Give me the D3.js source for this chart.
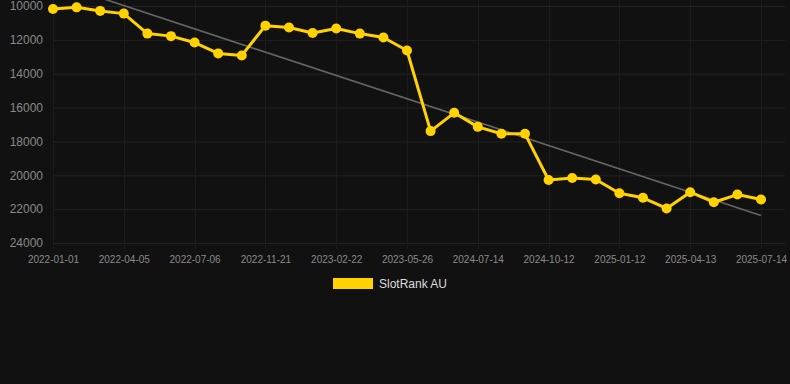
<!DOCTYPE html>
<html>
<head>
<meta charset="utf-8">
<script src="https://cdn.jsdelivr.net/npm/d3@7"></script>
<style>
  html, body { margin: 0; padding: 0; background: #111111; }
  svg { display: block; font-family: "Liberation Sans", Arial, sans-serif; }
</style>
</head>
<body>
<div id="chart"></div>
<script>
// dates for each point (only every 3rd one is labelled on the axis)
const dates = [
  "2022-01-01", "2022-02-01", "2022-03-04", "2022-04-05", "2022-05-06", "2022-06-05",
  "2022-07-06", "2022-08-20", "2022-10-05", "2022-11-21", "2022-12-22", "2023-01-22",
  "2023-02-22", "2023-03-25", "2023-04-25", "2023-05-26", "2023-06-26", "2024-06-13",
  "2024-07-14", "2024-08-13", "2024-09-12", "2024-10-12", "2024-11-11", "2024-12-12",
  "2025-01-12", "2025-02-11", "2025-03-13", "2025-04-13", "2025-05-13", "2025-06-13",
  "2025-07-14"
];
const rank = [
  10180, 10080, 10290, 10450, 11630, 11780, 12160, 12800, 12920, 11160,
  11270, 11590, 11330, 11630, 11860, 12630, 17390, 16310, 17140, 17550,
  17550, 20280, 20160, 20250, 21060, 21330, 21960, 21000, 21590, 21140,
  21430
];
const yTicks = [10000, 12000, 14000, 16000, 18000, 20000, 22000, 24000];
const seriesName = "SlotRank AU";

const W = 790, H = 384;
const plot = {left: 53, right: 761, top: 6, bottom: 243};

const svg = d3.select("#chart")
    .append("svg")
    .attr("width", W)
    .attr("height", H);

const x = d3.scalePoint().domain(dates).range([plot.left, plot.right]);
const y = d3.scaleLinear().domain([10000, 24000]).range([plot.top, plot.bottom]);

const labelled = dates.filter((d, i) => i % 3 === 0);

// grid
svg.append("g")
    .selectAll("line")
    .data(yTicks)
    .join("line")
    .attr("x1", plot.left)
    .attr("x2", 785)
    .attr("y1", d => y(d) + 0.5)
    .attr("y2", d => y(d) + 0.5)
    .attr("stroke", "#222222");

svg.append("g")
    .selectAll("line")
    .data(labelled)
    .join("line")
    .attr("x1", d => Math.round(x(d)) + 0.5)
    .attr("x2", d => Math.round(x(d)) + 0.5)
    .attr("y1", 0)
    .attr("y2", plot.bottom + 6)
    .attr("stroke", "#1c1c1c");

// y axis labels
const yAxis = svg.append("g")
    .attr("transform", "translate(" + (plot.left - 10) + ",0)")
    .call(d3.axisLeft(y).tickValues(yTicks).tickSize(0).tickPadding(0).tickFormat(d3.format("d")));
yAxis.select(".domain").remove();
yAxis.selectAll("text")
    .attr("fill", "#8a8a8a")
    .style("font-size", "12px")
    .style("font-family", "'Liberation Sans', Arial, sans-serif");

// x axis labels
const xAxis = svg.append("g")
    .attr("transform", "translate(0," + (plot.bottom + 13) + ")")
    .call(d3.axisBottom(x).tickValues(labelled).tickSize(0).tickPadding(0));
xAxis.select(".domain").remove();
xAxis.selectAll("text")
    .attr("fill", "#8a8a8a")
    .style("font-size", "10px")
    .style("font-family", "'Liberation Sans', Arial, sans-serif");

// linear trend (least squares over point index)
const n = rank.length;
const idx = d3.range(n);
const mx = d3.mean(idx), my = d3.mean(rank);
const slope = d3.sum(idx, i => (i - mx) * (rank[i] - my)) / d3.sum(idx, i => (i - mx) * (i - mx));
const icpt = my - slope * mx;
svg.append("line")
    .attr("x1", x(dates[0]))
    .attr("y1", y(icpt))
    .attr("x2", x(dates[n - 1]))
    .attr("y2", y(icpt + slope * (n - 1)))
    .attr("stroke", "#666666")
    .attr("stroke-width", 1.6);

// series
const line = d3.line()
    .x((d, i) => x(dates[i]))
    .y(d => y(d));

svg.append("path")
    .datum(rank)
    .attr("d", line)
    .attr("fill", "none")
    .attr("stroke", "#FFD200")
    .attr("stroke-width", 3)
    .attr("stroke-linejoin", "round");

svg.append("g")
    .selectAll("circle")
    .data(rank)
    .join("circle")
    .attr("cx", (d, i) => x(dates[i]))
    .attr("cy", d => y(d))
    .attr("r", 5)
    .attr("fill", "#FFD200");

// legend
const legend = svg.append("g").attr("transform", "translate(333,278)");
legend.append("rect")
    .attr("width", 40)
    .attr("height", 11)
    .attr("fill", "#FFD200");
legend.append("text")
    .attr("x", 46)
    .attr("y", 10)
    .attr("fill", "#dddddd")
    .style("font-size", "12px")
    .text(seriesName);
</script>
</body>
</html>
